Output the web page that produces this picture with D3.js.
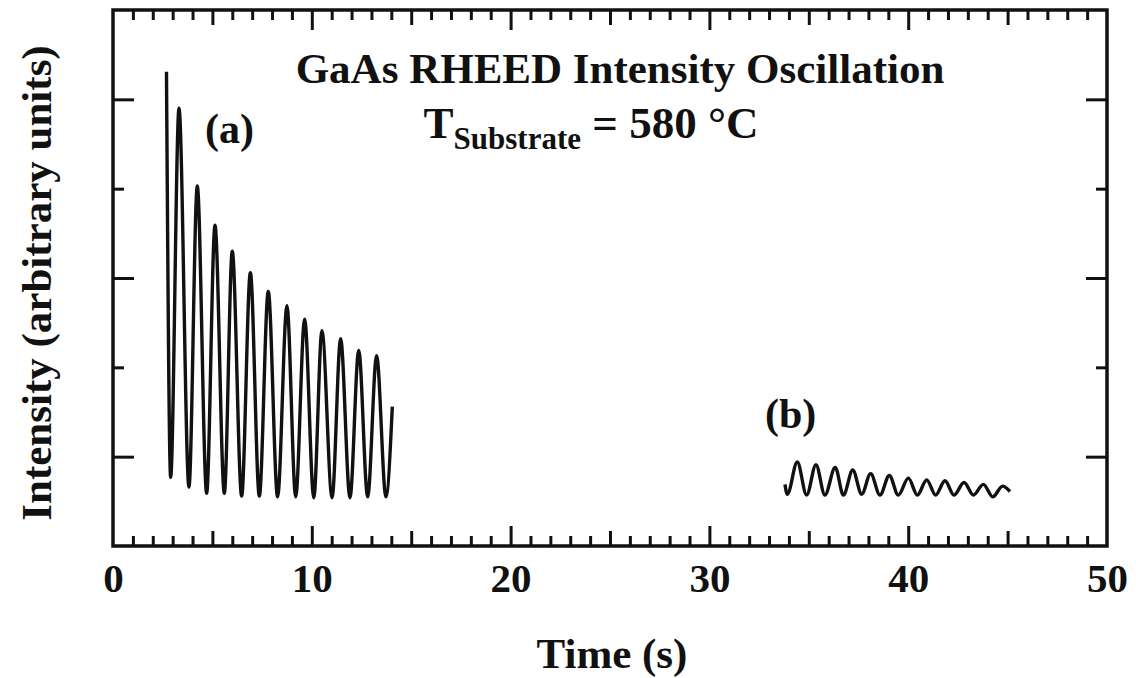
<!DOCTYPE html>
<html>
<head>
<meta charset="utf-8">
<script src="https://cdn.jsdelivr.net/npm/d3@7"></script>
<style>
  body { margin: 0; background: #fff; }
  svg text { font-family: "Liberation Serif", "Times New Roman", serif; font-weight: bold; fill: #111; }
</style>
</head>
<body>
<svg id="chart" width="1136" height="678"></svg>
<script>
// curve (a): turning points, time in s, intensity in arbitrary units
const timeA = [2.69, 2.90, 3.32, 3.82, 4.24, 4.71, 5.13, 5.60, 6.00, 6.47, 6.91, 7.36, 7.81, 8.28,
  8.75, 9.19, 9.64, 10.10, 10.51, 11.02, 11.45, 11.92, 12.36, 12.81, 13.26, 13.73, 14.05];
const intensityA = [5.31, 0.77, 4.90, 0.66, 4.03, 0.59, 3.59, 0.59, 3.30, 0.56, 3.06, 0.56, 2.85, 0.55,
  2.69, 0.55, 2.54, 0.54, 2.41, 0.54, 2.32, 0.54, 2.19, 0.55, 2.13, 0.55, 1.56];

// curve (b)
const timeB = [33.80, 33.92, 34.42, 34.89, 35.36, 35.81, 36.33, 36.74, 37.21, 37.66, 38.11, 38.58, 39.05,
  39.50, 40.01, 40.46, 40.93, 41.38, 41.85, 42.30, 42.81, 43.28, 43.78, 44.25, 44.75, 45.12];
const intensityB = [0.69, 0.58, 0.94, 0.57, 0.91, 0.57, 0.88, 0.57, 0.85, 0.58, 0.81, 0.57, 0.79,
  0.57, 0.76, 0.57, 0.74, 0.57, 0.73, 0.57, 0.71, 0.57, 0.69, 0.55, 0.67, 0.61];

const xLabels = [0, 10, 20, 30, 40, 50];
const yMajor = [1, 3, 5];
const yMinor = [2, 4];

const svg = d3.select("#chart");
const margin = { left: 113, right: 29, top: 10, bottom: 132 };
const width = 1136, height = 678;

const x = d3.scaleLinear().domain([0, 50]).range([margin.left, width - margin.right]);
const y = d3.scaleLinear().domain([0, 6]).range([height - margin.bottom, margin.top]);

const ink = "#111";

// tick sets along time axis
const tMinor = d3.range(0, 51).filter(d => d % 5 !== 0);
const tMid = d3.range(5, 50, 10);
const tMajor = d3.range(10, 50, 10);

function cleanAxis(g) {
  g.select(".domain").remove();
  g.selectAll(".tick line").attr("stroke", ink).attr("stroke-width", 3);
  g.selectAll(".tick text").remove();
}

[[tMinor, 10], [tMid, 15], [tMajor, 20]].forEach(([vals, len]) => {
  svg.append("g")
    .attr("transform", `translate(0,${y(0)})`)
    .call(d3.axisBottom(x).tickValues(vals).tickSize(-len))
    .call(cleanAxis);
  svg.append("g")
    .attr("transform", `translate(0,${y(6)})`)
    .call(d3.axisTop(x).tickValues(vals).tickSize(-len))
    .call(cleanAxis);
});

[[yMinor, 11], [yMajor, 21]].forEach(([vals, len]) => {
  svg.append("g")
    .attr("transform", `translate(${x(0)},0)`)
    .call(d3.axisLeft(y).tickValues(vals).tickSize(-len))
    .call(cleanAxis);
  svg.append("g")
    .attr("transform", `translate(${x(50)},0)`)
    .call(d3.axisRight(y).tickValues(vals).tickSize(-len))
    .call(cleanAxis);
});

// tick labels
svg.append("g")
  .attr("transform", `translate(0,${y(0)})`)
  .call(d3.axisBottom(x).tickValues(xLabels).tickSize(0).tickPadding(17).tickFormat(d3.format("d")))
  .call(g => g.select(".domain").remove())
  .call(g => g.selectAll(".tick text")
    .attr("font-size", 41)
    .attr("font-family", "Liberation Serif, serif")
    .attr("font-weight", "bold")
    .attr("fill", ink));

// frame
svg.append("rect")
  .attr("x", x(0)).attr("y", y(6))
  .attr("width", x(50) - x(0)).attr("height", y(0) - y(6))
  .attr("fill", "none").attr("stroke", ink).attr("stroke-width", 3.5);

// curves
const line = d3.line()
  .x(d => x(d[0]))
  .y(d => y(d[1]))
  .curve(d3.curveMonotoneX);

svg.append("path")
  .datum(d3.zip(timeA, intensityA))
  .attr("d", line)
  .attr("fill", "none").attr("stroke", ink).attr("stroke-width", 3.4)
  .attr("stroke-linejoin", "round");

svg.append("path")
  .datum(d3.zip(timeB, intensityB))
  .attr("d", line)
  .attr("fill", "none").attr("stroke", ink).attr("stroke-width", 3.4)
  .attr("stroke-linejoin", "round");

// labels
svg.append("text")
  .attr("x", 620).attr("y", 83)
  .attr("text-anchor", "middle")
  .attr("font-size", 43)
  .text("GaAs RHEED Intensity Oscillation");

const sub = svg.append("text")
  .attr("x", 591).attr("y", 138)
  .attr("text-anchor", "middle")
  .attr("font-size", 45);
sub.append("tspan").text("T");
sub.append("tspan").attr("font-size", 31).attr("dy", 11).text("Substrate");
sub.append("tspan").attr("dy", -11).text(" = 580 °C");

svg.append("text")
  .attr("x", 205).attr("y", 143)
  .attr("font-size", 42)
  .text("(a)");

svg.append("text")
  .attr("x", 765).attr("y", 428)
  .attr("font-size", 42)
  .text("(b)");

svg.append("text")
  .attr("x", 612).attr("y", 668)
  .attr("text-anchor", "middle")
  .attr("font-size", 43)
  .text("Time (s)");

svg.append("text")
  .attr("transform", `translate(51,${283}) rotate(-90)`)
  .attr("text-anchor", "middle")
  .attr("font-size", 43)
  .text("Intensity (arbitrary units)");
</script>
</body>
</html>
